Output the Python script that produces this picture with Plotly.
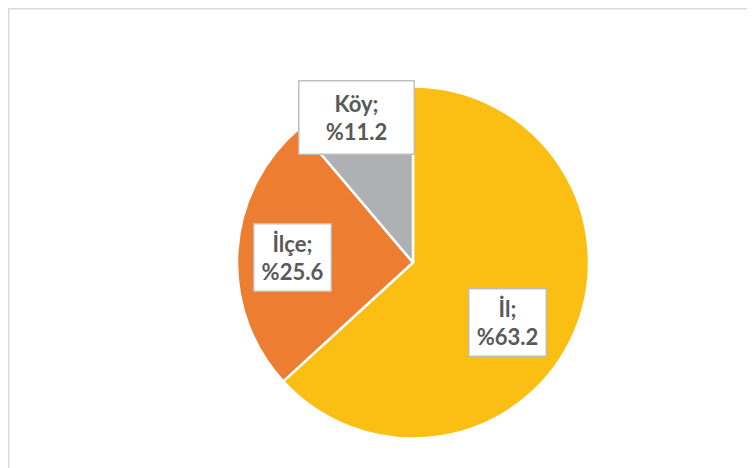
import math
import plotly.graph_objects as go

# Data
categories = ["İl", "İlçe", "Köy"]
values = [63.2, 25.6, 11.2]
colors = ["#FBBF14", "#ED7D31", "#AEB0B3"]

# label placement (per label: angular shift in degrees, radius fraction)
label_shift = [8.5, -1.2, -1.3]
label_rfrac = [0.64, 0.69, 0.89]
label_box_w = [70, 70, 108]
label_box_h = [60, 60, 66]

W, H = 755, 468
# page is offset by the body margin (8px)
cx, cy, R = 405, 254.5, 176

fig = go.Figure(go.Pie(
    labels=categories,
    values=values,
    sort=False,
    direction="clockwise",
    rotation=0,
    marker=dict(colors=colors, line=dict(color="white", width=2.5)),
    textinfo="none",
    hoverinfo="label+value",
    showlegend=False,
    domain=dict(x=[(cx - R) / W, (cx + R) / W], y=[1 - (cy + R) / H, 1 - (cy - R) / H]),
))

total = sum(values)
cum = 0
annotations = []
for i, (lab, v) in enumerate(zip(categories, values)):
    mid = (cum + v / 2) / total * 360 + label_shift[i]
    cum += v
    r = 175 * label_rfrac[i]
    px = cx + r * math.sin(math.radians(mid))
    py = cy - r * math.cos(math.radians(mid))
    annotations.append(dict(
        x=px / W, y=1 - py / H, xref="paper", yref="paper",
        text=f"<b>{lab};<br>%{v:.1f}</b>",
        showarrow=False,
        font=dict(family="Lato", size=22, color="#595959"),
        bgcolor="white",
        bordercolor="#BFBFBF",
        borderwidth=1.5,
        borderpad=3,
        width=label_box_w[i],
        height=label_box_h[i],
        align="center",
        xanchor="center", yanchor="middle",
    ))

fig.update_layout(
    width=W, height=H,
    margin=dict(l=0, r=0, t=0, b=0),
    paper_bgcolor="white",
    plot_bgcolor="white",
    annotations=annotations,
    shapes=[dict(type="rect", xref="paper", yref="paper",
                 x0=0.75 / W, y0=-0.05, x1=1.05, y1=1 - 0.75 / H,
                 line=dict(color="#D9D9D9", width=1.5), layer="below")],
)

fig.write_html("out.html")
